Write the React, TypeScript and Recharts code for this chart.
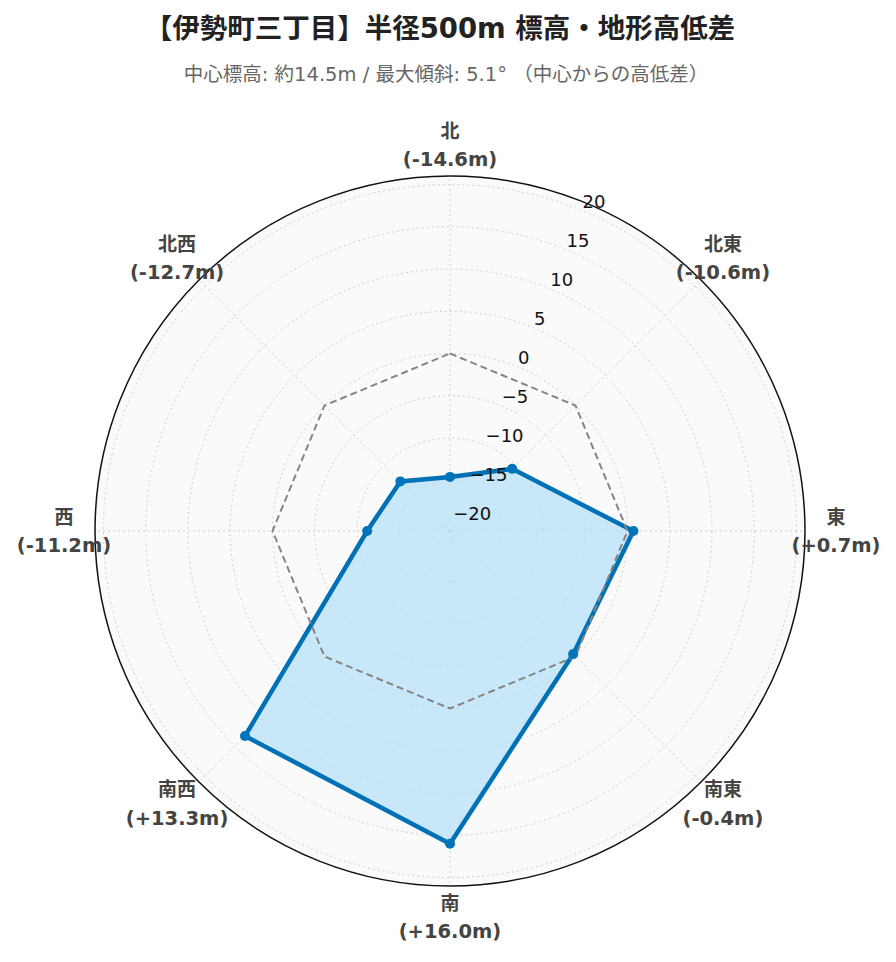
import React from 'react';
import { RadarChart, Radar, PolarGrid, PolarAngleAxis, PolarRadiusAxis } from 'recharts';

const directions = ['北', '北東', '東', '南東', '南', '南西', '西', '北西'];
const elevationDiff = [-14.6, -10.6, 0.7, -0.4, 16.0, 13.3, -11.2, -12.7];
const zeroLine = [0, 0, 0, 0, 0, 0, 0, 0];
const radialTicks = [-20, -15, -10, -5, 0, 5, 10, 15, 20];
const radialDomain: [number, number] = [-20.7, 20.6];

const titleText = '【伊勢町三丁目】半径500m 標高・地形高低差';
const subtitleText = '中心標高: 約14.5m / 最大傾斜: 5.1° （中心からの高低差）';

const data = directions.map((d, i) => ({ dir: d, value: elevationDiff[i], zero: zeroLine[i] }));

const W = 880;
const H = 946;
const CX = 442;
const CY = 523;
const OUTER = 355;
const LABEL_R = 386;

const fmtDiff = (v: number) => `(${v > 0 ? '+' : ''}${v.toFixed(1)}m)`;
const fmtTick = (v: number) => (v < 0 ? `\u2212${Math.abs(v)}` : `${v}`);

const LABEL_FONT = "'DejaVu Sans', 'Noto Sans CJK JP', sans-serif";

const AngleTick = (props: any) => {
  const { x, y, payload, index } = props;
  const dx = x - CX;
  const dy = y - CY;
  const len = Math.sqrt(dx * dx + dy * dy) || 1;
  const lx = CX + (dx / len) * LABEL_R;
  const ly = CY + (dy / len) * LABEL_R;
  const idx = typeof index === 'number' ? index : directions.indexOf(payload.value);
  return (
    <g>
      <text x={lx} y={ly - 14.5} textAnchor="middle" dominantBaseline="central" fontSize={19} fontWeight="bold" fill="#444" fontFamily={LABEL_FONT}>
        {payload.value}
      </text>
      <text x={lx} y={ly + 14.5} textAnchor="middle" dominantBaseline="central" fontSize={19.5} fontWeight="bold" fill="#444" fontFamily={LABEL_FONT}>
        {fmtDiff(elevationDiff[idx])}
      </text>
    </g>
  );
};

const RadiusTick = (props: any) => {
  const { x, y, payload } = props;
  return (
    <text x={x} y={y - 9.5} textAnchor="start" dominantBaseline="central" fontSize={18} fill="#111" fontFamily="'DejaVu Sans', sans-serif">
      {fmtTick(payload.value)}
    </text>
  );
};

export default function App() {
  return (
    <div style={{ position: 'relative', width: W, height: H, background: '#fff' }}>
      <div style={{ position: 'absolute', left: -8, top: 3, width: W, textAlign: 'center', fontFamily: LABEL_FONT, fontWeight: 'bold', fontSize: 27.5, color: '#222', lineHeight: '34px', whiteSpace: 'nowrap' }}>
        {titleText}
      </div>
      <div style={{ position: 'absolute', left: -2, top: 54, width: W, textAlign: 'center', fontFamily: LABEL_FONT, fontSize: 19.5, color: '#666', lineHeight: '26px', whiteSpace: 'nowrap' }}>
        {subtitleText}
      </div>
      <div style={{ position: 'absolute', left: 0, top: 0 }}>
        <RadarChart width={W} height={H} data={data} cx={CX} cy={CY} outerRadius={OUTER} margin={{ top: 0, right: 0, bottom: 0, left: 0 }}>
          <PolarGrid gridType="circle" stroke="#d4d4d4" strokeDasharray="2 3" strokeWidth={1} />
          <PolarAngleAxis
            dataKey="dir"
            tick={<AngleTick />}
            tickLine={false}
            axisLineType="circle"
            axisLine={{ stroke: '#111', strokeWidth: 1.5, fill: '#000', fillOpacity: 0.02 }}
          />
          <PolarRadiusAxis
            angle={67.5}
            type="number"
            domain={radialDomain}
            ticks={radialTicks}
            tick={<RadiusTick />}
            axisLine={false}
            tickLine={false}
            allowDataOverflow
          />
          <Radar
            dataKey="value"
            stroke="#0074BA"
            strokeWidth={4.5}
            fill="#b8e4fc"
            fillOpacity={0.72}
            dot={{ r: 5, fill: '#0074BA', fillOpacity: 1, stroke: '#0074BA', strokeOpacity: 1, strokeWidth: 0 }}
            isAnimationActive={false}
          />
          <Radar
            dataKey="zero"
            stroke="#888"
            strokeWidth={2}
            strokeDasharray="7 4"
            fill="none"
            fillOpacity={0}
            dot={false}
            isAnimationActive={false}
          />
        </RadarChart>
      </div>
    </div>
  );
}
